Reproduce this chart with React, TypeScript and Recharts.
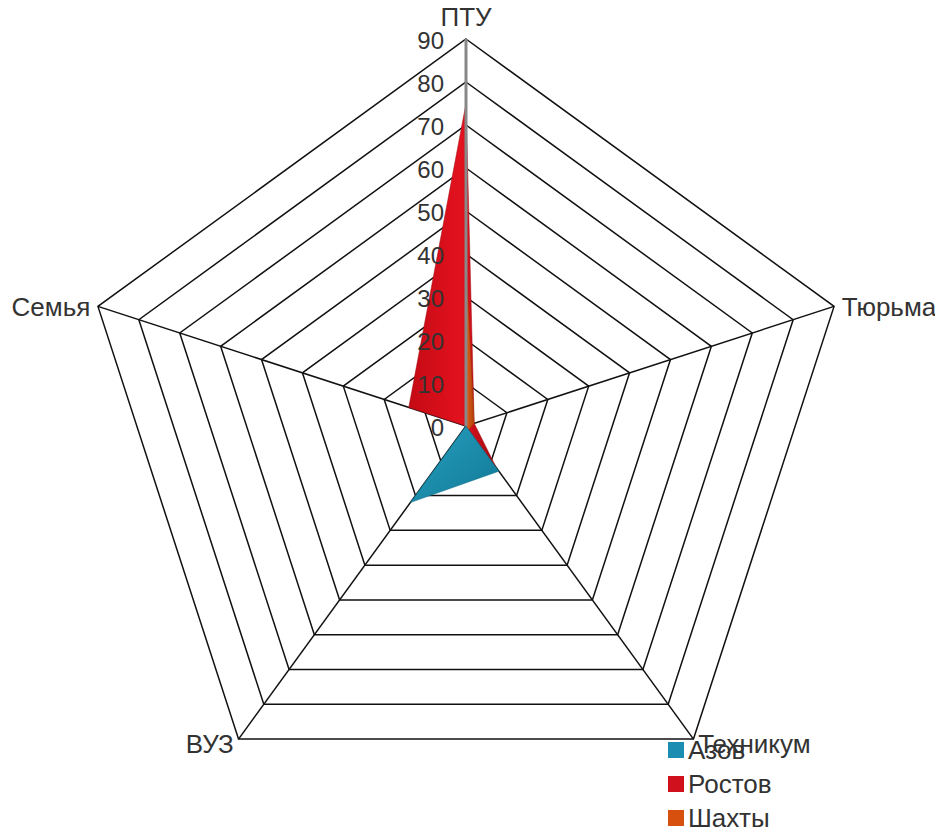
import { RadarChart, Radar, PolarGrid, PolarAngleAxis, PolarRadiusAxis, Legend } from "recharts";

const categories = ['ПТУ', 'Тюрьма', 'Техникум', 'ВУЗ', 'Семья'];
const azov = [0, 0, 13, 22, 0];
const rostov = [75, 2, 12, 0, 14];
const shakhty = [38, 2, 1, 0, 0];

const series = [
    { key: 'Азов', color: '#1b8db0' },
    { key: 'Ростов', color: '#d0101c' },
    { key: 'Шахты', color: '#d8500e' },
];

const data = categories.map((c, i) => ({
    name: c,
    'Азов': azov[i],
    'Ростов': rostov[i],
    'Шахты': shakhty[i],
}));

const FONT = 'Liberation Sans, Arial, sans-serif';

const renderLegend = () => (
    <div style={{ fontFamily: FONT, fontSize: 26, color: '#333' }}>
        {series.map(s => (
            <div key={s.key} style={{ display: 'flex', alignItems: 'center', height: 34 }}>
                <span style={{ width: 16, height: 16, background: s.color, display: 'inline-block', marginRight: 4 }} />
                {s.key}
            </div>
        ))}
    </div>
);

// подписи осей
const AngleTick = (props: any) => {
    const { x, y, textAnchor, payload } = props;
    let dy = 3;
    if (textAnchor === 'middle') dy = y < 418 ? -14 : 14;
    else if (y > 418) dy = -2;
    return (
        <text x={x} y={y + dy} textAnchor={textAnchor} dominantBaseline="central"
            fontSize={26} fill="#333" fontFamily={FONT}>
            {payload.value}
        </text>
    );
};

const RadiusTick = (props: any) => {
    const { x, y, payload } = props;
    return (
        <text x={x - 22} y={y + 1} textAnchor="end" dominantBaseline="central"
            fontSize={24} fill="#333" fontFamily={FONT}>
            {payload.value}
        </text>
    );
};

function App() {
    return (
        <div style={{ fontFamily: FONT }}>
            <RadarChart width={927} height={821} data={data} cx={458} cy={418} outerRadius={387}>
                <defs>
                    <linearGradient id="gAzov" x1="0" y1="0" x2="1" y2="1">
                        <stop offset="0%" stopColor="#2aa0c0" />
                        <stop offset="100%" stopColor="#0f7896" />
                    </linearGradient>
                    <linearGradient id="gRostov" x1="0" y1="0" x2="1" y2="0">
                        <stop offset="0%" stopColor="#c40a14" />
                        <stop offset="60%" stopColor="#e3121f" />
                        <stop offset="100%" stopColor="#9e0a10" />
                    </linearGradient>
                    <linearGradient id="gShakhty" x1="0" y1="0" x2="1" y2="0">
                        <stop offset="0%" stopColor="#e0601a" />
                        <stop offset="100%" stopColor="#b0400a" />
                    </linearGradient>
                </defs>
                <PolarGrid gridType="polygon" stroke="#111" strokeWidth={1.5} />
                <PolarAngleAxis dataKey="name" tick={AngleTick} tickLine={false} />
                <PolarRadiusAxis angle={90} domain={[0, 90]} tickCount={10}
                    tick={RadiusTick} axisLine={{ stroke: '#888', strokeWidth: 3 }} tickLine={false} />
                <Radar dataKey="Ростов" stroke="#9e0a10" strokeWidth={0.5} fill="url(#gRostov)" fillOpacity={1} isAnimationActive={false} />
                <Radar dataKey="Шахты" stroke="#a03a08" strokeWidth={0.5} fill="url(#gShakhty)" fillOpacity={1} isAnimationActive={false} />
                <Radar dataKey="Азов" stroke="#0e6e8a" strokeWidth={0.5} fill="url(#gAzov)" fillOpacity={1} isAnimationActive={false} />
                <Legend content={renderLegend} wrapperStyle={{ position: 'absolute', left: 660, top: 725, width: 150 }} />
            </RadarChart>
        </div>
    );
}

export default App;
